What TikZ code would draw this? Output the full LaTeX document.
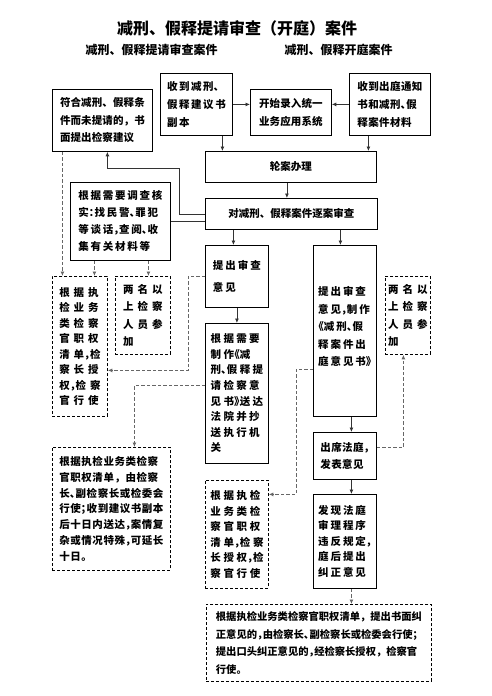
\documentclass[tikz,border=0pt]{standalone}
\usepackage{fontspec}
\setmainfont{Noto Sans CJK SC}
\usetikzlibrary{arrows.meta}
\newcommand\myfs[3]{\fontsize{#1}{#2}\bfseries\selectfont\addfontfeature{LetterSpace=#3}}
\newcommand\hp[1]{\makebox[0.55em][l]{#1}}
\newcommand\hq[1]{\makebox[0.55em][r]{#1}}
\newcommand\mkbox[7][]{\node[box,minimum width={#5pt-#3pt},minimum height={#6pt-#4pt},#1] (#2) at (#3,#4) {#7};}
\tikzset{
  box/.style={draw=black,line width=0.8pt,inner sep=0pt,align=left,anchor=north west,font=\myfs{10.5}{15.6}{0}},
  dbox/.style={dash pattern=on 3pt off 2pt},
  conn/.style={draw=black!80,line width=0.8pt},
  arr/.style={conn,-{Latex[length=4.5pt,width=4pt]}},
  dconn/.style={draw=black!60,line width=0.9pt,dash pattern=on 3.5pt off 2pt},
  darr/.style={dconn,-{Latex[length=4.5pt,width=4pt]}},
}
\begin{document}
\begin{tikzpicture}[x=1pt,y=-1pt]
\useasboundingbox (0,0) rectangle (491,696);
\node[font=\fontsize{16}{16}\bfseries\selectfont] (title) at (237,28) {减刑、假释提请审查（开庭）案件};
\node[font=\fontsize{12}{12}\bfseries\selectfont] (sub1) at (151.5,50) {减刑、假释提请审查案件};
\node[font=\fontsize{12}{12}\bfseries\selectfont] (sub2) at (338.5,50) {减刑、假释开庭案件};

\mkbox[font=\myfs{10.5}{17.5}{1}]{A}{52}{89}{152}{151}{符合减刑、假释条\\件而未提请的，书\\面提出检察建议}
\mkbox[font=\myfs{10.5}{18}{15}]{B}{160}{73}{232}{135}{收到减刑\hp{、}\\假释建议书\\副本}
\mkbox[font=\myfs{10.5}{18}{1}]{C}{250}{89}{331}{135}{开始录入统一\\业务应用系统}
\mkbox[font=\myfs{10.5}{18}{4}]{D}{349}{73}{430}{135}{收到出庭通知\\书和减刑\hp{、}假\\释案件材料}
\mkbox[align=center]{E}{205}{151}{376}{182}{轮案办理}
\mkbox[align=center]{F}{205}{198}{377}{229}{对减刑、假释案件逐案审查}
\mkbox[font=\myfs{10.5}{17}{17}]{G}{70}{182}{170}{260}{根据需要调查核\\实\hp{：}找民警\hp{、}罪犯\\等谈话\hp{，}查阅\hp{、}收\\集有关材料等}
\mkbox[dbox,font=\myfs{10.5}{15.5}{38}]{H}{52}{276}{107}{416}{根据执\\检业务\\类检察\\官职权\\清单\hp{，}检\\察长授\\权\hp{，}检察\\官行使}
\mkbox[dbox,font=\myfs{10.5}{17.5}{38}]{I}{115}{276}{170}{354}{两名以\\上检察\\人员参\\加}
\mkbox[font=\myfs{10.5}{22}{19}]{J}{205}{245}{268}{307}{提出审查\\意见}
\mkbox[font=\myfs{10.5}{15.6}{22}]{K}{205}{323}{268}{463}{根据需要\\制作\hq{《}减\\刑\hp{、}假释提\\请检察意\\见书\hp{》}送达\\法院并抄\\送执行机\\关}
\mkbox[dbox,font=\myfs{10.5}{15.7}{5}]{L}{52}{447}{170}{570}{根据执检业务类检察\\官职权清单，由检察\\长\hp{、}副检察长或检委会\\行使\hp{；}收到建议书副本\\后十日内送达\hp{，}案情复\\杂或情况特殊\hp{，}可延长\\十日。}
\mkbox[dbox,font=\myfs{10.5}{15.6}{26}]{M}{205}{480}{268}{588}{根据执检\\业务类检\\察官职权\\清单\hp{，}检察\\长授权\hp{，}检\\察官行使}
\mkbox[font=\myfs{10.5}{17.5}{19}]{N}{313}{245}{376}{416}{\mbox{}\\\mbox{}\\提出审查\\意见\hp{，}制作\\\hq{《}减刑\hp{、}假\\释案件出\\庭意见书\hp{》}\\\mbox{}\\\mbox{}}
\mkbox[dbox,font=\myfs{10.5}{17.5}{38}]{O}{385}{276}{430}{354}{两名以\\上检察\\人员参\\加}
\mkbox[font=\myfs{10.5}{17}{4}]{P}{313}{432}{376}{479}{出席法庭\hp{，}\\发表意见}
\mkbox[font=\myfs{10.5}{15.5}{19}]{Q}{313}{494}{376}{588}{发现法庭\\审理程序\\违反规定\hp{，}\\庭后提出\\纠正意见}
\mkbox[dbox,font=\myfs{10.3}{17.5}{0}]{R}{206}{604}{431}{681}{根据执检业务类检察官职权清单，提出书面纠\\正意见的\hp{，}由检察长\hp{、}副检察长或检委会行使\hp{；}\\提出口头纠正意见的\hp{，}经检察长授权，检察官\\行使。}

% solid connectors
\draw[arr] (B.east) -- (B.east -| C.west);
\draw[arr] (D.west) -- (D.west -| C.east);
\draw[arr] ([xshift=26pt]B.south) -- ([xshift=26pt]B.south |- E.north);
\draw[arr] ([xshift=-21.5pt]D.south) -- ([xshift=-21.5pt]D.south |- E.north);
\draw[arr] ([xshift=-4pt]E.south) -- ([xshift=-4pt]E.south |- F.north);
\draw[arr] (F.west) -- ++(-26,0) -- ++(0,-46) -| ([xshift=5pt]A.south);
\draw[conn] (G.east) -- (G.east -| F.west);
\draw[arr] ([xshift=-58pt]F.south) -- ([xshift=-58pt]F.south |- J.north);
\draw[arr] ([xshift=49pt]F.south) -- ([xshift=49pt]F.south |- N.north);
\draw[arr] (J.south) -- (K.north);
\draw[arr] ([xshift=6.5pt]N.south) -- ([xshift=6.5pt]P.north);
\draw[arr] ([xshift=6.5pt]P.south) -- ([xshift=6.5pt]Q.north);

% dashed connectors
\draw[darr] ([xshift=-40pt]A.south) -- ([xshift=-40pt]A.south |- H.north);
\draw[darr] ([xshift=-26pt]G.south) -- ([xshift=-26pt]G.south |- H.north);
\draw[darr] ([xshift=28pt]G.south) -- ([xshift=28pt]G.south |- I.north);
\draw[darr] (J.west) -- ++(-17,0) |- ([yshift=-24pt]H.east);
\draw[darr] ([yshift=8pt]K.west) -| ([xshift=23pt]L.north);
\draw[darr] ([yshift=-38.5pt]N.west) -- ++(-17,0) |- ([yshift=40pt]M.east);
\draw[darr] ([yshift=8.5pt]P.east) -| ([xshift=-4.5pt]O.south);
\draw[darr] ([xshift=6.5pt]Q.south) -- ([xshift=6.5pt]Q.south |- R.north);
\end{tikzpicture}
\end{document}
